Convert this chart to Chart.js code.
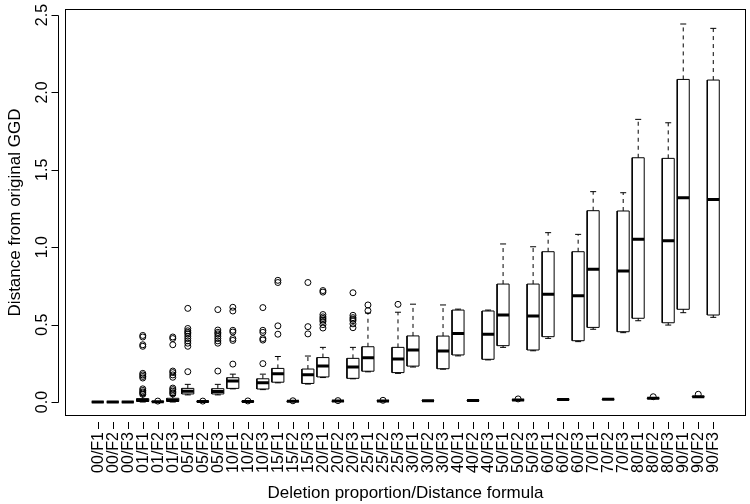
<!DOCTYPE html>
<html>
<head>
<meta charset="utf-8">
<script src="https://cdn.jsdelivr.net/npm/chart.js@4.4.1/dist/chart.umd.min.js"></script>
<style>
html,body{margin:0;padding:0;background:#fff;}
canvas{display:block;}
</style>
</head>
<body>
<canvas id="c" width="750" height="504"></canvas>
<script>
const categories = ['00/F1','00/F2','00/F3','01/F1','01/F2','01/F3','05/F1','05/F2','05/F3',
  '10/F1','10/F2','10/F3','15/F1','15/F2','15/F3','20/F1','20/F2','20/F3','25/F1','25/F2','25/F3',
  '30/F1','30/F2','30/F3','40/F1','40/F2','40/F3','50/F1','50/F2','50/F3','60/F1','60/F2','60/F3',
  '70/F1','70/F2','70/F3','80/F1','80/F2','80/F3','90/F1','90/F2','90/F3'];

const yTickValues = [0, 0.5, 1, 1.5, 2, 2.5];
const yTickLabels = ['0.0', '0.5', '1.0', '1.5', '2.0', '2.5'];

const whiskerLow = [0,0,0, 0,0,0, 0.046,0.001,0.046, 0.085,0.002,0.08, 0.124,0.003,0.116,
  0.158,0.004,0.15, 0.195,0.005,0.185, 0.226,0.006,0.212, 0.298,0.008,0.272, 0.353,0.011,0.331,
  0.411,0.014,0.39, 0.47,0.016,0.448, 0.525,0.023,0.497, 0.577,0.032,0.547];
const boxLow = [0,0,0, 0.004,0.001,0.004, 0.052,0.002,0.052, 0.088,0.003,0.084, 0.128,0.004,0.12,
  0.162,0.005,0.153, 0.199,0.006,0.19, 0.232,0.007,0.215, 0.304,0.009,0.276, 0.364,0.012,0.336,
  0.422,0.015,0.396, 0.482,0.017,0.454, 0.541,0.024,0.512, 0.599,0.033,0.562];
const medians = [0,0,0, 0.009,0.002,0.01, 0.07,0.003,0.068, 0.135,0.004,0.125, 0.182,0.005,0.176,
  0.233,0.006,0.226, 0.286,0.007,0.278, 0.336,0.008,0.329, 0.443,0.01,0.437, 0.562,0.013,0.556,
  0.696,0.016,0.687, 0.857,0.018,0.846, 1.051,0.025,1.042, 1.32,0.034,1.309];
const boxHigh = [0,0,0, 0.022,0.003,0.024, 0.088,0.004,0.086, 0.157,0.005,0.15, 0.217,0.006,0.213,
  0.287,0.007,0.282, 0.357,0.008,0.353, 0.427,0.009,0.426, 0.594,0.011,0.588, 0.762,0.014,0.762,
  0.971,0.017,0.971, 1.236,0.019,1.234, 1.578,0.026,1.574, 2.084,0.035,2.08];
const whiskerHigh = [0,0,0, 0.04,0.004,0.042, 0.114,0.005,0.114, 0.18,0.006,0.18, 0.294,0.007,0.297,
  0.353,0.008,0.353, 0.575,0.009,0.58, 0.632,0.01,0.627, 0.6,0.012,0.594, 1.021,0.015,1.003,
  1.094,0.018,1.083, 1.359,0.02,1.352, 1.826,0.027,1.804, 2.442,0.036,2.414];
const outliers = [
  [],[],[],
  [0.43,0.42,0.37,0.36,0.185,0.175,0.165,0.155,0.085,0.075,0.065,0.058,0.05],
  [0.006],
  [0.42,0.41,0.37,0.2,0.19,0.175,0.16,0.09,0.08,0.07,0.06,0.052],
  [0.605,0.475,0.46,0.45,0.44,0.425,0.41,0.395,0.38,0.36,0.196],
  [0.006],
  [0.597,0.465,0.45,0.44,0.425,0.41,0.395,0.38,0.2],
  [0.612,0.588,0.463,0.452,0.41,0.398,0.245],
  [0.007],
  [0.61,0.463,0.45,0.41,0.4,0.248],
  [0.786,0.772,0.492,0.438],
  [0.008],
  [0.772,0.487,0.44],
  [0.72,0.71,0.565,0.55,0.54,0.53,0.52,0.5,0.478],
  [0.009],
  [0.706,0.56,0.545,0.535,0.525,0.505,0.48],
  [0.627,0.59],
  [0.011],
  [0.631],
  [],[],[],
  [],[],[],
  [],[0.02],[],
  [],[],[],
  [],[],[],
  [],[0.034],[],
  [],[0.05],[]
];

const FONT = '"Liberation Sans", Arial, Helvetica, sans-serif';
const HALF = 0.4, CAP = 0.2;

const boxPts = [], medPts = [], whiskPts = [], capPts = [], outPts = [];
categories.forEach((c, i) => {
  const lo = whiskerLow[i], q1 = boxLow[i], m = medians[i], q3 = boxHigh[i], hi = whiskerHigh[i];
  boxPts.push({x:i-HALF,y:q1},{x:i+HALF,y:q1},{x:i+HALF,y:q3},{x:i-HALF,y:q3},{x:i-HALF,y:q1},{x:i,y:null});
  medPts.push({x:i-HALF,y:m},{x:i+HALF,y:m},{x:i,y:null});
  whiskPts.push({x:i,y:q3},{x:i,y:hi},{x:i,y:null},{x:i,y:q1},{x:i,y:lo},{x:i,y:null});
  capPts.push({x:i-CAP,y:hi},{x:i+CAP,y:hi},{x:i,y:null},{x:i-CAP,y:lo},{x:i+CAP,y:lo},{x:i,y:null});
  outliers[i].forEach(v => outPts.push({x:i, y:v}));
});

const lineDs = (label, data, extra) => Object.assign({
  label, data, type:'scatter', showLine:true, spanGaps:false,
  borderColor:'#000', borderWidth:1, pointRadius:0, pointHoverRadius:0, fill:false
}, extra);

const rAxes = {
  id: 'rAxes',
  afterDraw(chart) {
    const {ctx, chartArea:a, scales:{x, y}} = chart;
    ctx.save();
    ctx.strokeStyle = '#000';
    ctx.fillStyle = '#000';
    ctx.lineWidth = 1;
    // frame
    ctx.strokeRect(a.left + 0.5, a.top + 0.5, a.right - a.left - 1, a.bottom - a.top - 1);
    // y axis (offset from frame)
    const ax = a.left - 6.5;
    const y0 = Math.round(y.getPixelForValue(yTickValues[0])) + 0.5;
    const y1 = Math.round(y.getPixelForValue(yTickValues[yTickValues.length-1])) + 0.5;
    ctx.beginPath();
    ctx.moveTo(ax, y0); ctx.lineTo(ax, y1);
    yTickValues.forEach(v => {
      const py = Math.round(y.getPixelForValue(v)) + 0.5;
      ctx.moveTo(ax, py); ctx.lineTo(ax - 7, py);
    });
    ctx.stroke();
    ctx.font = '16px ' + FONT;
    ctx.textAlign = 'center';
    ctx.textBaseline = 'middle';
    yTickValues.forEach((v, k) => {
      const py = y.getPixelForValue(v);
      ctx.save();
      ctx.translate(a.left - 22, py);
      ctx.rotate(-Math.PI/2);
      ctx.fillText(yTickLabels[k], 0, 0);
      ctx.restore();
    });
    // x ticks
    const tickTop = a.bottom + 6;
    ctx.beginPath();
    categories.forEach((c, i) => {
      const px = Math.round(x.getPixelForValue(i)) + 0.5;
      ctx.moveTo(px, tickTop); ctx.lineTo(px, tickTop + 7);
    });
    ctx.stroke();
    ctx.textAlign = 'right';
    ctx.textBaseline = 'middle';
    categories.forEach((c, i) => {
      const px = x.getPixelForValue(i);
      ctx.save();
      ctx.translate(px + 0.5, a.bottom + 16);
      ctx.rotate(-Math.PI/2);
      ctx.fillText(c, 0, 0);
      ctx.restore();
    });
    // axis titles
    ctx.font = '17px ' + FONT;
    ctx.textAlign = 'center';
    ctx.textBaseline = 'middle';
    ctx.fillText('Deletion proportion/Distance formula', (a.left + a.right) / 2, 493);
    ctx.save();
    ctx.translate(15, (a.top + a.bottom) / 2);
    ctx.rotate(-Math.PI/2);
    ctx.fillText('Distance from original GGD', 0, 0);
    ctx.restore();
    ctx.restore();
  }
};

new Chart(document.getElementById('c'), {
  type: 'scatter',
  data: {
    datasets: [
      lineDs('whiskers', whiskPts, {borderDash:[4,4], order:5}),
      lineDs('staples', capPts, {order:4}),
      lineDs('boxes', boxPts, {order:3, borderJoinStyle:'miter'}),
      lineDs('medians', medPts, {order:2, borderWidth:3, borderCapStyle:'butt'}),
      {label:'outliers', data: outPts, type:'scatter', showLine:false, order:1,
       pointStyle:'circle', pointRadius:3, pointHoverRadius:3, borderWidth:1,
       borderColor:'#000', backgroundColor:'rgba(0,0,0,0)'}
    ]
  },
  options: {
    responsive: false,
    devicePixelRatio: 1,
    animation: false,
    events: [],
    layout: { padding: { left: 65, right: 1, top: 9, bottom: 88 } },
    plugins: { legend: {display:false}, tooltip: {enabled:false}, title: {display:false} },
    scales: {
      x: { type:'linear', min:-2.18, max:43.18, display:false },
      y: { type:'linear', min:-0.0904, max:2.539, display:false }
    }
  },
  plugins: [rAxes]
});
</script>
</body>
</html>
